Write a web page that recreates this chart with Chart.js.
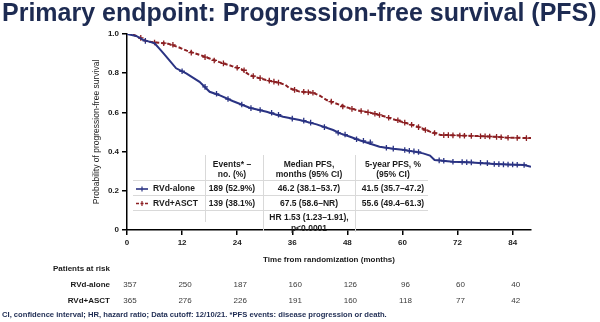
<!DOCTYPE html>
<html>
<head>
<meta charset="utf-8">
<script src="https://cdn.jsdelivr.net/npm/chart.js@4.4.1/dist/chart.umd.min.js"></script>
<style>
html,body{margin:0;padding:0;background:#fff;}
#wrap{width:600px;height:322px;position:relative;}
</style>
</head>
<body>
<div id="wrap"><canvas id="c" width="600" height="322"></canvas></div>
<script>
// ---- data ----
const chartTitle = 'Primary endpoint: Progression-free survival (PFS)';
const seriesNames = ['RVd-alone', 'RVd+ASCT'];

const aloneMonths = [0,2,3.5,5,6,7,8,9.2,10.7,12.9,15.8,18,20,23,26.7,30.4,34,37.6,41.3,44.9,46.4,48.6,50.5,55,58,60,64.5,66,67,71,75,80,86.5,88];
const aloneSurv   = [1,0.99,0.97,0.96,0.953,0.927,0.9,0.867,0.825,0.799,0.756,0.705,0.689,0.658,0.624,0.603,0.578,0.561,0.539,0.51,0.493,0.476,0.459,0.425,0.415,0.41,0.391,0.38,0.357,0.348,0.345,0.337,0.332,0.323];

const asctMonths = [0,1,2,3.5,5,7,9,11.5,13,15.9,18,20,23,25,26.7,28,30.4,33.3,34.5,35.4,37.6,40.5,42,43.5,46.4,48,50,53.6,56,58,61,63,66,68.3,72,75.5,80,83,86,88];
const asctSurv   = [1,1,0.99,0.97,0.96,0.955,0.95,0.93,0.915,0.893,0.875,0.858,0.835,0.82,0.79,0.78,0.765,0.75,0.74,0.723,0.706,0.7,0.685,0.663,0.638,0.625,0.612,0.595,0.58,0.565,0.544,0.53,0.502,0.485,0.483,0.48,0.476,0.471,0.47,0.469];

const aloneCensorMonths = [4,12,17,19.5,22,25,27,29,31.5,33,36,38.5,40,43,46,47.5,50,51.5,53,56.5,58,60.5,61.5,62.5,63.5,68,69,71,73,74,75,77,78.5,80,81,82,83,84,85,86.5];
const aloneCensorSurv   = [0.965,0.81,0.73,0.695,0.668,0.64,0.622,0.612,0.598,0.588,0.568,0.558,0.548,0.525,0.496,0.487,0.463,0.455,0.448,0.42,0.415,0.408,0.404,0.401,0.398,0.355,0.353,0.348,0.347,0.346,0.345,0.343,0.341,0.337,0.336,0.335,0.334,0.334,0.333,0.332];

const asctCensorMonths = [3,6,8,10,14,17,19,21,24,25.5,27.5,29,31,32,33,36.5,38.5,39.5,40.5,44.5,47,49,51,52.5,54,55,57,59,60.5,62,63.5,65,67,69,70,71,72.5,73.5,75,77,78,79,80.5,81.5,83,85,87];
const asctCensorSurv   = [0.98,0.957,0.953,0.945,0.905,0.882,0.865,0.85,0.828,0.815,0.785,0.775,0.762,0.757,0.752,0.715,0.705,0.703,0.7,0.655,0.63,0.618,0.607,0.6,0.593,0.587,0.573,0.56,0.548,0.537,0.525,0.51,0.495,0.484,0.484,0.483,0.482,0.481,0.48,0.478,0.478,0.477,0.475,0.473,0.471,0.47,0.469];

const xTicks = [0,12,24,36,48,60,72,84];
const yTicks = [0,0.2,0.4,0.6,0.8,1.0];

const riskTimes = [0,12,24,36,48,60,72,84];
const riskAlone = [357,250,187,160,126,96,60,40];
const riskAsct  = [365,276,226,191,160,118,77,42];

const tableHeaders = [['Events* –','no. (%)'],['Median PFS,','months (95% CI)'],['5-year PFS, %','(95% CI)']];
const tableAlone = ['189 (52.9%)','46.2 (38.1–53.7)','41.5 (35.7–47.2)'];
const tableAsct  = ['139 (38.1%)','67.5 (58.6–NR)','55.6 (49.4–61.3)'];
const hrText = ['HR 1.53 (1.23–1.91),','p<0.0001'];
const footnote = 'CI, confidence interval; HR, hazard ratio; Data cutoff: 12/10/21. *PFS events: disease progression or death.';

// ---- styles ----
const BLUE = '#2a3383';
const RED = '#8c1f22';
const NAVY = '#1d2b52';
const FONT = '"Liberation Sans", Arial, sans-serif';

const pairs = (xs, ys) => xs.map((x, i) => ({x, y: ys[i]}));

const extras = {
  id: 'extras',
  afterDraw(chart) {
    const ctx = chart.ctx;
    const xs = chart.scales.x;
    ctx.save();
    // main title
    ctx.fillStyle = NAVY;
    let fs = 24;
    ctx.font = `bold ${fs}px ${FONT}`;
    const w = ctx.measureText(chartTitle).width;
    fs = fs * 595 / w;
    ctx.font = `bold ${fs}px ${FONT}`;
    ctx.textBaseline = 'alphabetic';
    ctx.textAlign = 'left';
    ctx.fillText(chartTitle, 2, 21);

    // inner table
    ctx.strokeStyle = '#d9d9d9';
    ctx.lineWidth = 1;
    [180.5, 195.5, 210.5].forEach(y => {
      ctx.beginPath(); ctx.moveTo(133, y); ctx.lineTo(428, y); ctx.stroke();
    });
    [[205.5,155,222],[263.5,155,231],[355.5,155,232]].forEach(([x,y0,y1]) => {
      ctx.beginPath(); ctx.moveTo(x, y0); ctx.lineTo(x, y1); ctx.stroke();
    });
    ctx.fillStyle = '#1a1a1a';
    ctx.font = `bold 8.5px ${FONT}`;
    ctx.textBaseline = 'middle';
    ctx.textAlign = 'center';
    const colX = [232, 309, 393];
    tableHeaders.forEach((h, i) => {
      ctx.fillText(h[0], colX[i], 165);
      ctx.fillText(h[1], colX[i], 174.5);
    });
    tableAlone.forEach((t, i) => ctx.fillText(t, colX[i], 189));
    tableAsct.forEach((t, i) => ctx.fillText(t, colX[i], 203.5));
    ctx.fillText(hrText[0], colX[1], 218);
    ctx.fillText(hrText[1], colX[1], 228.5);
    ctx.textAlign = 'left';
    ctx.fillText(seriesNames[0], 153, 189);
    ctx.fillText(seriesNames[1], 153, 203.5);
    // legend markers
    const marker = (y, col, dash) => {
      ctx.strokeStyle = col; ctx.lineWidth = 1.6;
      ctx.setLineDash(dash);
      ctx.beginPath(); ctx.moveTo(136, y); ctx.lineTo(148, y); ctx.stroke();
      ctx.setLineDash([]);
      ctx.lineWidth = 1.2;
      ctx.beginPath(); ctx.moveTo(142, y - 2.5); ctx.lineTo(142, y + 2.5); ctx.stroke();
    };
    marker(189, BLUE, []);
    marker(203.5, RED, [3, 1.5]);

    // risk table
    ctx.fillStyle = '#1a1a1a';
    ctx.font = `bold 8px ${FONT}`;
    ctx.textAlign = 'left';
    ctx.fillText('Patients at risk', 53, 268.5);
    ctx.textAlign = 'right';
    ctx.fillText(seriesNames[0], 110, 285);
    ctx.fillText(seriesNames[1], 110, 300.5);
    ctx.font = `8px ${FONT}`;
    ctx.fillStyle = '#3a3a3a';
    ctx.textAlign = 'center';
    riskTimes.forEach((t, i) => {
      const px = xs.getPixelForValue(t) + 3;
      ctx.fillText(String(riskAlone[i]), px, 285);
      ctx.fillText(String(riskAsct[i]), px, 300.5);
    });

    // footnote
    ctx.fillStyle = NAVY;
    let ff = 8;
    ctx.font = `bold ${ff}px ${FONT}`;
    const fw = ctx.measureText(footnote).width;
    ff = ff * 386 / fw;
    ctx.font = `bold ${ff}px ${FONT}`;
    ctx.textAlign = 'left';
    ctx.fillText(footnote, 2, 315);
    ctx.restore();
  }
};

new Chart(document.getElementById('c'), {
  type: 'line',
  data: {
    datasets: [
      {label: seriesNames[0], data: pairs(aloneMonths, aloneSurv), borderColor: BLUE, borderWidth: 2, pointRadius: 0, tension: 0, fill: false},
      {label: seriesNames[1], data: pairs(asctMonths, asctSurv), borderColor: RED, borderWidth: 2, borderDash: [4, 2], pointRadius: 0, tension: 0, fill: false},
      {label: 'c1', data: pairs(aloneCensorMonths, aloneCensorSurv), showLine: false, pointStyle: 'cross', pointRadius: 2.8, pointBorderWidth: 1.3, borderColor: BLUE, backgroundColor: BLUE},
      {label: 'c2', data: pairs(asctCensorMonths, asctCensorSurv), showLine: false, pointStyle: 'cross', pointRadius: 2.8, pointBorderWidth: 1.3, borderColor: RED, backgroundColor: RED}
    ]
  },
  options: {
    responsive: false,
    animation: false,
    events: [],
    layout: {padding: {left: 92, top: 34, right: 69, bottom: 57}},
    plugins: {legend: {display: false}, tooltip: {enabled: false}, title: {display: false}},
    scales: {
      x: {
        type: 'linear', min: 0, max: 88,
        afterBuildTicks: s => { s.ticks = xTicks.map(v => ({value: v})); },
        afterFit: s => { s.height = 35; },
        grid: {drawOnChartArea: false, color: '#000', tickLength: 5, lineWidth: 1.5, tickWidth: 1.5},
        border: {color: '#000', width: 1.5},
        ticks: {color: '#1a1a1a', font: {family: FONT, size: 8, weight: 'bold'}, padding: 3, maxRotation: 0},
        title: {display: true, text: 'Time from randomization (months)', color: '#1a1a1a', font: {family: FONT, size: 8, weight: 'bold'}, padding: 0}
      },
      y: {
        type: 'linear', min: 0, max: 1,
        afterBuildTicks: s => { s.ticks = yTicks.map(v => ({value: v})); },
        afterFit: s => { s.width = 35; },
        grid: {drawOnChartArea: false, color: '#000', tickLength: 5, lineWidth: 1.5, tickWidth: 1.5},
        border: {color: '#000', width: 1.5},
        ticks: {color: '#1a1a1a', font: {family: FONT, size: 8, weight: 'bold'}, padding: 3,
          callback: v => v === 0 ? '0' : v.toFixed(1)},
        title: {display: true, text: 'Probability of progression-free survival', color: '#1a1a1a', font: {family: FONT, size: 8.5}, padding: 0}
      }
    }
  },
  plugins: [extras]
});
</script>
</body>
</html>
